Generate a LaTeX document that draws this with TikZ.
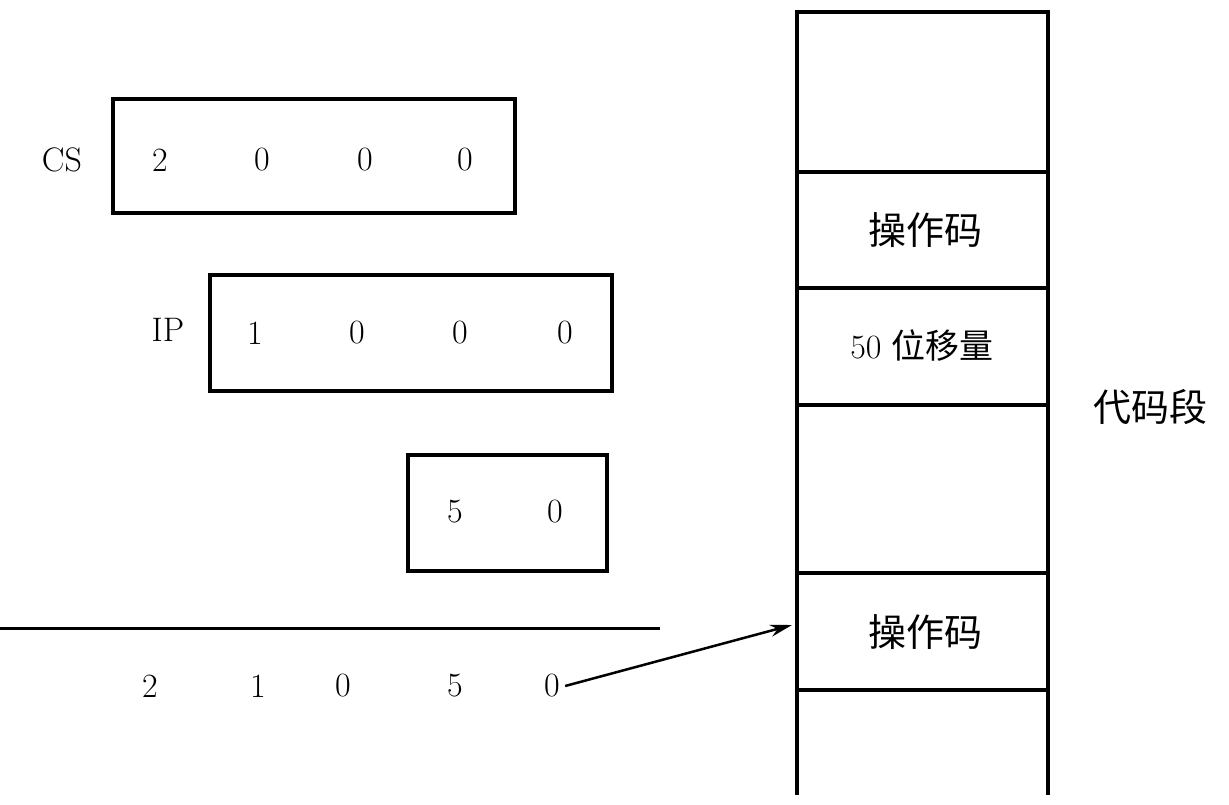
\documentclass[tikz,border=0pt]{standalone}
\usepackage{fontspec}
\usetikzlibrary{arrows.meta}
\newfontfamily\cjk{Noto Sans CJK SC}
\begin{document}
\begin{tikzpicture}[x=1pt,y=-1pt,line width=4pt,
  reg/.style={draw,rectangle,line width=4pt},
  dg/.style={font=\fontsize{34}{36}\selectfont},
  cn/.style={font=\cjk\fontsize{38}{40}\selectfont}]
\useasboundingbox (0,0) rectangle (1229,804);
% registers
\node[reg,minimum width=402pt,minimum height=114pt] (cs) at (314,156) {};
\node[dg] (csl) at (62,160) {CS};
\foreach \x/\d in {160/2,262/0,365/0,465/0} \node[dg] at (\x,160) {\d};
\node[reg,minimum width=402pt,minimum height=116pt] (ip) at (411,333) {};
\node[dg] (ipl) at (168,330) {IP};
\foreach \x/\d in {255/1,357/0,460/0,565/0} \node[dg] at (\x,333) {\d};
\node[reg,minimum width=199pt,minimum height=116pt] (of) at (507,513) {};
\node[dg] at (455,512) {5};
\node[dg] at (555,512) {0};
\coordinate (l1) at (0,628); \coordinate (l2) at (660,628);
\draw[line width=3pt] (l1) -- (l2);
\foreach \x/\d in {150/2,258/1,343/0,455/5} \node[dg] at (\x,686) {\d};
\node[dg] (last) at (552,686) {0};
% memory column
\draw (797,795) -- (797,12) -- (1048,12) -- (1048,795);
\foreach \y in {172,288,405,573,690} \draw (797,\y) -- (1048,\y);
\node[cn] at (925,230) {操作码};
\node[cn] at (922,346) {\fontspec{Latin Modern Roman}\fontsize{34}{36}\selectfont 50 \cjk 位移量};
\node[cn] (op) at (925,632) {操作码};
\node[cn] at (1150,407) {代码段};
\coordinate (tip) at (792,625);
\draw[line width=2.5pt,-{Stealth[length=22pt,width=12pt]}] (last.east) -- (tip);
\end{tikzpicture}
\end{document}
